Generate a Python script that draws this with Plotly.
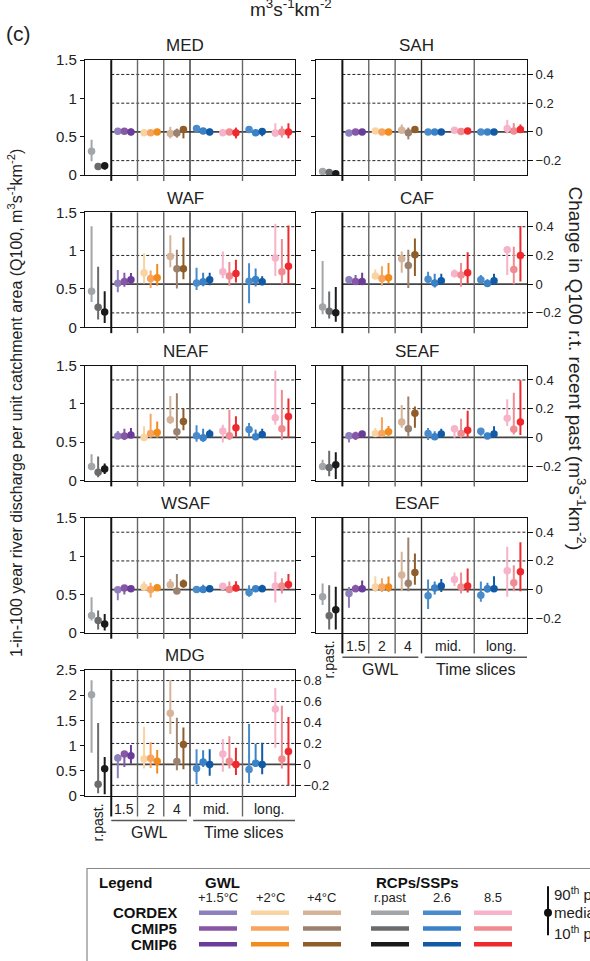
import plotly.graph_objects as go

W, H = 590, 961


def px(x):
    return x / W


def py(y):
    return 1 - y / H


# ---------------- data ----------------
# model order inside every group: CORDEX, CMIP5, CMIP6
MODELS = ["CORDEX", "CMIP5", "CMIP6"]
# future groups (change w.r.t. recent past, right axis)
FUT_GROUPS = ["GWL +1.5°C", "GWL +2°C", "GWL +4°C", "mid 2.6", "mid 8.5", "long 2.6", "long 8.5"]
SLOT_LABELS = ["1.5", "2", "4", "mid.", "long."]

# recent past (left axis, m3 s-1 km-2): median, 10th, 90th percentile
MED_past_med = [0.31, 0.11, 0.12]
MED_past_p10 = [0.18, 0.07, 0.07]
MED_past_p90 = [0.46, 0.13, 0.15]
MED_fut_med = [0.005, 0.005, 0.0, -0.005, -0.005, 0.0, -0.011, -0.007, 0.016, 0.023, 0.007, 0.0, -0.005, 0.0, -0.005, 0.016, -0.005, 0.002, -0.007, 0.0, 0.0]
MED_fut_p10 = [-0.005, -0.005, -0.023, -0.015, -0.015, -0.012, -0.045, -0.04, -0.045, 0.005, -0.005, -0.023, -0.015, -0.01, -0.045, 0.0, -0.02, -0.03, -0.035, -0.04, -0.045]
MED_fut_p90 = [0.015, 0.015, 0.023, 0.005, 0.005, 0.012, 0.035, 0.023, 0.03, 0.04, 0.015, 0.023, 0.01, 0.01, 0.03, 0.03, 0.01, 0.027, 0.06, 0.04, 0.06]

SAH_past_med = [0.047, 0.034, 0.017]
SAH_past_p10 = [0.035, 0.025, 0.01]
SAH_past_p90 = [0.06, 0.045, 0.025]
SAH_fut_med = [-0.007, 0.0, 0.0, 0.007, 0.0, 0.0, 0.011, -0.005, 0.016, 0.0, 0.0, 0.0, 0.011, 0.002, 0.007, 0.0, 0.0, 0.0, 0.023, 0.007, 0.016]
SAH_fut_p10 = [-0.015, -0.008, -0.008, 0.0, -0.008, -0.008, -0.011, -0.052, 0.008, -0.008, -0.008, -0.008, 0.003, -0.006, -0.001, -0.008, -0.008, -0.008, -0.011, -0.011, 0.0]
SAH_fut_p90 = [0.0, 0.008, 0.008, 0.015, 0.008, 0.008, 0.052, 0.03, 0.024, 0.008, 0.008, 0.008, 0.019, 0.01, 0.015, 0.008, 0.008, 0.008, 0.084, 0.061, 0.052]

WAF_past_med = [0.47, 0.26, 0.20]
WAF_past_p10 = [0.33, 0.10, 0.055]
WAF_past_p90 = [1.32, 0.79, 0.47]
WAF_fut_med = [0.007, 0.018, 0.03, 0.08, 0.039, 0.045, 0.193, 0.107, 0.107, 0.009, 0.016, 0.03, 0.086, 0.057, 0.075, 0.02, 0.032, 0.016, 0.182, 0.086, 0.125]
WAF_fut_p10 = [-0.057, -0.018, -0.005, 0.005, -0.027, -0.011, 0.118, -0.03, 0.034, -0.041, -0.014, -0.007, 0.041, -0.011, 0.011, -0.132, -0.016, -0.007, 0.057, 0.0, 0.0]
WAF_fut_p90 = [0.098, 0.08, 0.077, 0.216, 0.095, 0.14, 0.34, 0.239, 0.325, 0.114, 0.08, 0.08, 0.227, 0.155, 0.17, 0.145, 0.109, 0.055, 0.42, 0.314, 0.409]

CAF_past_med = [0.263, 0.21, 0.19]
CAF_past_p10 = [0.17, 0.114, 0.072]
CAF_past_p90 = [0.864, 0.466, 0.525]
CAF_fut_med = [0.03, 0.018, 0.018, 0.057, 0.039, 0.045, 0.177, 0.13, 0.205, 0.034, 0.009, 0.023, 0.073, 0.064, 0.08, 0.03, 0.005, 0.023, 0.239, 0.102, 0.2]
CAF_fut_p10 = [0.007, 0.0, 0.0, 0.034, -0.011, 0.007, 0.08, -0.027, 0.057, 0.007, -0.023, 0.0, 0.057, -0.018, 0.007, 0.011, -0.011, 0.005, 0.064, 0.0, 0.018]
CAF_fut_p90 = [0.055, 0.064, 0.08, 0.102, 0.125, 0.148, 0.227, 0.239, 0.318, 0.086, 0.073, 0.073, 0.102, 0.148, 0.223, 0.064, 0.034, 0.073, 0.261, 0.261, 0.405]

NEAF_past_med = [0.184, 0.107, 0.15]
NEAF_past_p10 = [0.15, 0.043, 0.086]
NEAF_past_p90 = [0.343, 0.313, 0.223]
NEAF_fut_med = [0.009, 0.009, 0.016, 0.0, 0.027, 0.034, 0.123, 0.039, 0.111, 0.011, -0.002, 0.023, 0.045, 0.011, 0.068, 0.055, 0.005, 0.02, 0.136, 0.061, 0.145]
NEAF_fut_p10 = [-0.011, -0.018, -0.002, -0.025, -0.002, -0.002, 0.095, -0.018, 0.05, -0.03, -0.03, 0.005, -0.036, -0.018, 0.005, 0.005, -0.018, -0.002, 0.089, -0.018, -0.002]
NEAF_fut_p90 = [0.045, 0.061, 0.066, 0.077, 0.164, 0.111, 0.289, 0.307, 0.198, 0.084, 0.061, 0.055, 0.089, 0.191, 0.148, 0.1, 0.055, 0.061, 0.466, 0.33, 0.27]

SEAF_past_med = [0.184, 0.171, 0.206]
SEAF_past_p10 = [0.141, 0.056, 0.021]
SEAF_past_p90 = [0.27, 0.39, 0.369]
SEAF_fut_med = [0.011, 0.011, 0.023, 0.027, 0.027, 0.039, 0.107, 0.061, 0.168, 0.027, 0.005, 0.023, 0.061, 0.027, 0.05, 0.043, 0.009, 0.023, 0.134, 0.057, 0.107]
SEAF_fut_p10 = [-0.036, -0.018, 0.009, 0.005, 0.005, 0.011, 0.068, 0.005, 0.068, -0.018, -0.018, 0.005, -0.002, -0.002, -0.002, 0.011, -0.011, 0.005, 0.08, 0.02, 0.016]
SEAF_fut_p90 = [0.027, 0.039, 0.043, 0.066, 0.141, 0.08, 0.225, 0.284, 0.216, 0.066, 0.043, 0.061, 0.073, 0.13, 0.186, 0.057, 0.032, 0.077, 0.266, 0.311, 0.398]

WSAF_past_med = [0.227, 0.159, 0.116]
WSAF_past_p10 = [0.159, 0.043, 0.03]
WSAF_past_p90 = [0.463, 0.291, 0.244]
WSAF_fut_med = [0.0, 0.011, 0.007, 0.018, 0.002, 0.014, 0.034, -0.009, 0.041, 0.002, 0.002, 0.007, 0.023, 0.002, 0.011, -0.02, 0.007, 0.007, 0.025, 0.025, 0.036]
WSAF_fut_p10 = [-0.073, -0.034, -0.005, 0.0, -0.055, -0.005, 0.014, -0.027, 0.014, -0.016, -0.016, -0.009, 0.0, -0.02, -0.011, -0.05, -0.009, -0.009, -0.089, -0.027, 0.007]
WSAF_fut_p90 = [0.018, 0.03, 0.025, 0.057, 0.048, 0.034, 0.075, 0.109, 0.07, 0.025, 0.034, 0.03, 0.041, 0.057, 0.059, 0.03, 0.025, 0.034, 0.125, 0.08, 0.109]

ESAF_past_med = [0.471, 0.223, 0.30]
ESAF_past_p10 = [0.364, 0.043, 0.043]
ESAF_past_p90 = [0.643, 0.621, 0.60]
ESAF_fut_med = [-0.027, 0.007, 0.007, 0.018, 0.018, 0.018, 0.102, 0.045, 0.12, -0.043, 0.011, 0.025, 0.07, 0.018, 0.025, -0.039, 0.007, 0.007, 0.132, 0.048, 0.125]
ESAF_fut_p10 = [-0.125, -0.011, -0.016, -0.016, -0.016, -0.016, -0.011, -0.011, 0.034, -0.134, -0.034, -0.016, 0.025, -0.027, -0.02, -0.084, -0.02, -0.011, -0.05, -0.011, -0.011]
ESAF_fut_p90 = [0.018, 0.034, 0.064, 0.093, 0.08, 0.091, 0.264, 0.364, 0.252, 0.07, 0.057, 0.075, 0.12, 0.12, 0.148, 0.057, 0.048, 0.093, 0.298, 0.17, 0.33]

MDG_past_med = [2.01, 0.228, 0.54]
MDG_past_p10 = [0.855, 0.05, 0.03]
MDG_past_p90 = [2.30, 1.45, 0.77]
MDG_fut_med = [0.062, 0.098, 0.083, 0.052, 0.058, 0.031, 0.489, 0.028, 0.191, -0.04, 0.022, 0.0, 0.098, 0.031, 0.0, -0.049, 0.012, 0.0, 0.529, 0.052, 0.123]
MDG_fut_p10 = [-0.132, -0.025, 0.006, -0.04, -0.034, -0.086, 0.289, -0.055, -0.046, -0.188, -0.025, -0.108, -0.071, -0.04, -0.102, -0.178, -0.025, -0.095, 0.16, -0.04, -0.2]
MDG_fut_p90 = [0.098, 0.12, 0.185, 0.36, 0.212, 0.138, 0.806, 0.446, 0.351, 0.145, 0.135, 0.145, 0.243, 0.268, 0.16, 0.385, 0.197, 0.206, 0.729, 0.56, 0.452]

# colours (CORDEX, CMIP5, CMIP6)
COL_GWL15 = ["#8e80bd", "#8856a7", "#6a3d9a"]
COL_GWL2 = ["#f9d4a2", "#f7a55e", "#f28c1d"]
COL_GWL4 = ["#d5b49a", "#9b8270", "#8f5d2a"]
COL_PAST = ["#a3a6a8", "#6a6b6d", "#1a1a1a"]
COL_26 = ["#4a8ccb", "#3a82c8", "#125aa5"]
COL_85 = ["#f7b3c9", "#f08b91", "#ee2a2e"]

REGION_DATA = {
    "MED": (MED_past_med, MED_past_p10, MED_past_p90, MED_fut_med, MED_fut_p10, MED_fut_p90),
    "SAH": (SAH_past_med, SAH_past_p10, SAH_past_p90, SAH_fut_med, SAH_fut_p10, SAH_fut_p90),
    "WAF": (WAF_past_med, WAF_past_p10, WAF_past_p90, WAF_fut_med, WAF_fut_p10, WAF_fut_p90),
    "CAF": (CAF_past_med, CAF_past_p10, CAF_past_p90, CAF_fut_med, CAF_fut_p10, CAF_fut_p90),
    "NEAF": (NEAF_past_med, NEAF_past_p10, NEAF_past_p90, NEAF_fut_med, NEAF_fut_p10, NEAF_fut_p90),
    "SEAF": (SEAF_past_med, SEAF_past_p10, SEAF_past_p90, SEAF_fut_med, SEAF_fut_p10, SEAF_fut_p90),
    "WSAF": (WSAF_past_med, WSAF_past_p10, WSAF_past_p90, WSAF_fut_med, WSAF_fut_p10, WSAF_fut_p90),
    "ESAF": (ESAF_past_med, ESAF_past_p10, ESAF_past_p90, ESAF_fut_med, ESAF_fut_p10, ESAF_fut_p90),
    "MDG": (MDG_past_med, MDG_past_p10, MDG_past_p90, MDG_fut_med, MDG_fut_p10, MDG_fut_p90),
}
REGIONS = ["MED", "SAH", "WAF", "CAF", "NEAF", "SEAF", "WSAF", "ESAF", "MDG"]

# ---------------- layout geometry (pixels) ----------------
PANEL_POS = {"MED": (0, 0), "SAH": (1, 0), "WAF": (0, 1), "CAF": (1, 1), "NEAF": (0, 2),
             "SEAF": (1, 2), "WSAF": (0, 3), "ESAF": (1, 3), "MDG": (0, 4)}
COL_X = [(85, 295), (316, 527)]
ROW_Y = [(52, 169), (207, 324), (363, 480), (518, 635), (673, 801)]
BOTTOM_PANELS = ["ESAF", "MDG"]
NSLOT = 8
OFF = [-0.25, 0.0, 0.25]

FONT = "Liberation Sans, Arial, sans-serif"
fut_colors = [COL_GWL15, COL_GWL2, COL_GWL4, COL_26, COL_85, COL_26, COL_85]

fig = go.Figure()
layout = {}
shapes = []
annotations = []

for k, reg in enumerate(REGIONS):
    col, row = PANEL_POS[reg]
    x0p, x1p = COL_X[col]
    y0p, y1p = ROW_Y[row]
    xa = "x" if k == 0 else f"x{k + 1}"
    yl = f"y{2 * k + 1}" if k > 0 else "y"
    yr = f"y{2 * k + 2}"
    xname = "xaxis" if k == 0 else f"xaxis{k + 1}"
    ylname = "yaxis" if k == 0 else f"yaxis{2 * k + 1}"
    yrname = f"yaxis{2 * k + 2}"
    mdg = reg == "MDG"
    lrange = [0, 2.5] if mdg else [0, 1.5]
    rrange = [-0.3, 0.9] if mdg else [-0.3, 0.5]
    lticks = [0, 0.5, 1, 1.5, 2, 2.5] if mdg else [0, 0.5, 1, 1.5]
    rticks = [-0.2, 0, 0.2, 0.4, 0.6, 0.8] if mdg else [-0.2, 0, 0.2, 0.4]

    layout[xname] = dict(domain=[px(x0p), px(x1p)], range=[0, NSLOT], anchor=yl,
                         showticklabels=False, ticks="", showgrid=False, zeroline=False,
                         showline=True, mirror=True, linecolor="#111", linewidth=1.3, fixedrange=True)
    layout[ylname] = dict(domain=[py(y1p), py(y0p)], range=lrange, anchor=xa,
                          tickvals=lticks, ticks="outside", ticklen=4, tickcolor="#111",
                          showticklabels=(col == 0), tickfont=dict(size=15, color="#222"),
                          showgrid=False, zeroline=False, showline=True, mirror=True,
                          linecolor="#111", linewidth=1.3)
    layout[yrname] = dict(overlaying=yl, side="right", anchor=xa, range=rrange,
                          tickvals=rticks, ticks="outside", ticklen=5, tickcolor="#111",
                          showticklabels=(col == 1 or mdg), tickfont=dict(size=13, color="#222"),
                          showgrid=False, zeroline=False, showline=False)

    pmed, p10, p90, fmed, f10, f90 = REGION_DATA[reg]

    # horizontal reference lines (right axis) in the projection part
    for v in rticks:
        if v == 0:
            continue
        shapes.append(dict(type="line", xref=xa, yref=yr, x0=1, x1=NSLOT, y0=v, y1=v,
                           line=dict(color="#222", width=1, dash="3px,2px"), layer="below"))
    shapes.append(dict(type="line", xref=xa, yref=yr, x0=1, x1=NSLOT, y0=0, y1=0,
                       line=dict(color="#444", width=1.6), layer="below"))

    # vertical separators
    hpx = y1p - y0p
    ext = (21 if reg in BOTTOM_PANELS else 6) / hpx
    for s in [1, 2, 3, 4, 6]:
        if s == 1:
            c, w = "#111", 2
        elif s == 4:
            c, w = "#333", 1.4
        else:
            c, w = "#666", 1.4
        shapes.append(dict(type="line", xref=xa, yref=f"{yl} domain", x0=s, x1=s, y0=-ext, y1=1,
                           line=dict(color=c, width=w), layer="above"))

    # recent past
    for m in range(3):
        fig.add_trace(go.Scatter(
            x=[0.5 + OFF[m]], y=[pmed[m]], xaxis=xa, yaxis=yl, mode="markers",
            marker=dict(size=7.5, color=COL_PAST[m]),
            error_y=dict(type="data", symmetric=False, array=[p90[m] - pmed[m]],
                         arrayminus=[pmed[m] - p10[m]], color=COL_PAST[m], thickness=2, width=0),
            showlegend=False, hoverinfo="skip"))

    # projections
    for g in range(7):
        for m in range(3):
            i = g * 3 + m
            fig.add_trace(go.Scatter(
                x=[g + 1.5 + OFF[m]], y=[fmed[i]], xaxis=xa, yaxis=yr, mode="markers",
                marker=dict(size=7.5, color=fut_colors[g][m]),
                error_y=dict(type="data", symmetric=False, array=[f90[i] - fmed[i]],
                             arrayminus=[fmed[i] - f10[i]], color=fut_colors[g][m],
                             thickness=2, width=0),
                showlegend=False, hoverinfo="skip"))

    # panel title
    annotations.append(dict(text=reg, xref="paper", yref="paper", x=px((x0p + x1p) / 2 - 5),
                            y=py(y0p - 14.5), showarrow=False, font=dict(size=17, color="#222"),
                            xanchor="center", yanchor="middle"))

    # bottom labels
    if reg in BOTTOM_PANELS:
        b = y1p
        for lab, xs in zip(SLOT_LABELS, [1.5, 2.5, 3.5, 5, 7]):
            annotations.append(dict(text=lab, xref=xa, yref="paper", x=xs, y=py(b + 13),
                                    showarrow=False, font=dict(size=14, color="#222"),
                                    xanchor="center", yanchor="middle"))
        annotations.append(dict(text="r.past.", xref=xa, yref="paper", x=0.5, y=py(b + 27),
                                showarrow=False, textangle=-90, font=dict(size=14, color="#222"),
                                xanchor="center", yanchor="middle"))
        shapes.append(dict(type="line", xref=xa, yref="paper", x0=1, x1=3.88, y0=py(b + 25),
                           y1=py(b + 25), line=dict(color="#555", width=1.5)))
        shapes.append(dict(type="line", xref=xa, yref="paper", x0=4.12, x1=NSLOT, y0=py(b + 25),
                           y1=py(b + 25), line=dict(color="#555", width=1.5)))
        annotations.append(dict(text="GWL", xref=xa, yref="paper", x=2.45, y=py(b + 37.5),
                                showarrow=False, font=dict(size=16, color="#222"),
                                xanchor="center", yanchor="middle"))
        annotations.append(dict(text="Time slices", xref=xa, yref="paper", x=6.05, y=py(b + 37.5),
                                showarrow=False, font=dict(size=16, color="#222"),
                                xanchor="center", yanchor="middle"))

# ---------------- overall texts ----------------
annotations.append(dict(text="(c)", xref="paper", yref="paper", x=px(4), y=py(25), showarrow=False,
                        font=dict(size=21, color="#222"), xanchor="left", yanchor="middle"))
annotations.append(dict(text="m<sup>3</sup>s<sup>-1</sup>km<sup>-2</sup>", xref="paper", yref="paper",
                        x=px(291), y=py(13), showarrow=False, font=dict(size=19, color="#222"),
                        xanchor="center", yanchor="bottom"))
annotations.append(dict(text="1-in-100 year river discharge per unit catchment area (Q100, m<sup>3</sup>s<sup>-1</sup>km<sup>-2</sup>)",
                        xref="paper", yref="paper", x=px(15), y=py(401), showarrow=False, textangle=-90,
                        font=dict(size=16, color="#222"), xanchor="center", yanchor="middle"))
annotations.append(dict(text="Change in Q100 r.t. recent past (m<sup>3</sup>s<sup>-1</sup>km<sup>-2</sup>)",
                        xref="paper", yref="paper", x=px(577), y=py(366), showarrow=False, textangle=90,
                        font=dict(size=19, color="#222"), xanchor="center", yanchor="middle"))

# ---------------- legend box ----------------
shapes.append(dict(type="rect", xref="paper", yref="paper", x0=px(87), x1=px(640), y0=py(875), y1=py(1000),
                   line=dict(color="#888", width=1.2), fillcolor="rgba(0,0,0,0)"))
annotations.append(dict(text="<b>Legend</b>", xref="paper", yref="paper", x=px(97), y=py(889),
                        showarrow=False, font=dict(size=15, color="#111"), xanchor="left", yanchor="middle"))
annotations.append(dict(text="<b>GWL</b>", xref="paper", yref="paper", x=px(222), y=py(889),
                        showarrow=False, font=dict(size=15, color="#111"), xanchor="center", yanchor="middle"))
annotations.append(dict(text="<b>RCPs/SSPs</b>", xref="paper", yref="paper", x=px(417), y=py(889),
                        showarrow=False, font=dict(size=15, color="#111"), xanchor="center", yanchor="middle"))
LEG_HEAD = ["+1.5°C", "+2°C", "+4°C", "r.past", "2.6", "8.5"]
LEG_X = [218, 270, 322, 390, 442, 493]
LEG_COLS = [COL_GWL15, COL_GWL2, COL_GWL4, COL_PAST, COL_26, COL_85]
LEG_ROW_Y = [920, 936, 952]
for head, lx, cols in zip(LEG_HEAD, LEG_X, LEG_COLS):
    annotations.append(dict(text=head, xref="paper", yref="paper", x=px(lx), y=py(905),
                            showarrow=False, font=dict(size=13, color="#222"),
                            xanchor="center", yanchor="middle"))
    for c, ly in zip(cols, LEG_ROW_Y):
        shapes.append(dict(type="line", xref="paper", yref="paper", x0=px(lx - 19), x1=px(lx + 19),
                           y0=py(ly), y1=py(ly), line=dict(color=c, width=4.5)))
for name, ly in zip(MODELS, LEG_ROW_Y):
    annotations.append(dict(text=f"<b>{name}</b>", xref="paper", yref="paper", x=px(179), y=py(ly),
                            showarrow=False, font=dict(size=15, color="#111"),
                            xanchor="right", yanchor="middle"))
# whisker key
shapes.append(dict(type="line", xref="paper", yref="paper", x0=px(548), x1=px(548), y0=py(893), y1=py(943),
                   line=dict(color="#111", width=2)))
shapes.append(dict(type="circle", xref="paper", yref="paper", x0=px(544), x1=px(552), y0=py(916), y1=py(924),
                   line=dict(color="#111", width=0), fillcolor="#111"))
for txt, ty in [("90<sup>th</sup> percentile", 900), ("median", 920), ("10<sup>th</sup> percentile", 940)]:
    annotations.append(dict(text=txt, xref="paper", yref="paper", x=px(552), y=py(ty), showarrow=False,
                            font=dict(size=15, color="#222"), xanchor="left", yanchor="middle"))

fig.update_layout(
    width=W, height=H, margin=dict(l=0, r=0, t=0, b=0),
    paper_bgcolor="white", plot_bgcolor="rgba(0,0,0,0)",
    font=dict(family=FONT, color="#222"),
    shapes=shapes, annotations=annotations, showlegend=False,
    **layout,
)

PAGE_CSS_JS = (
    "var h=document.documentElement,b=document.body;"
    "h.style.margin='0';h.style.padding='0';h.style.overflow='hidden';h.style.height='961px';"
    "b.style.margin='0';b.style.padding='0';b.style.overflow='hidden';b.style.height='961px';"
)

fig.write_html("out.html", config={"displayModeBar": False}, post_script=PAGE_CSS_JS)
